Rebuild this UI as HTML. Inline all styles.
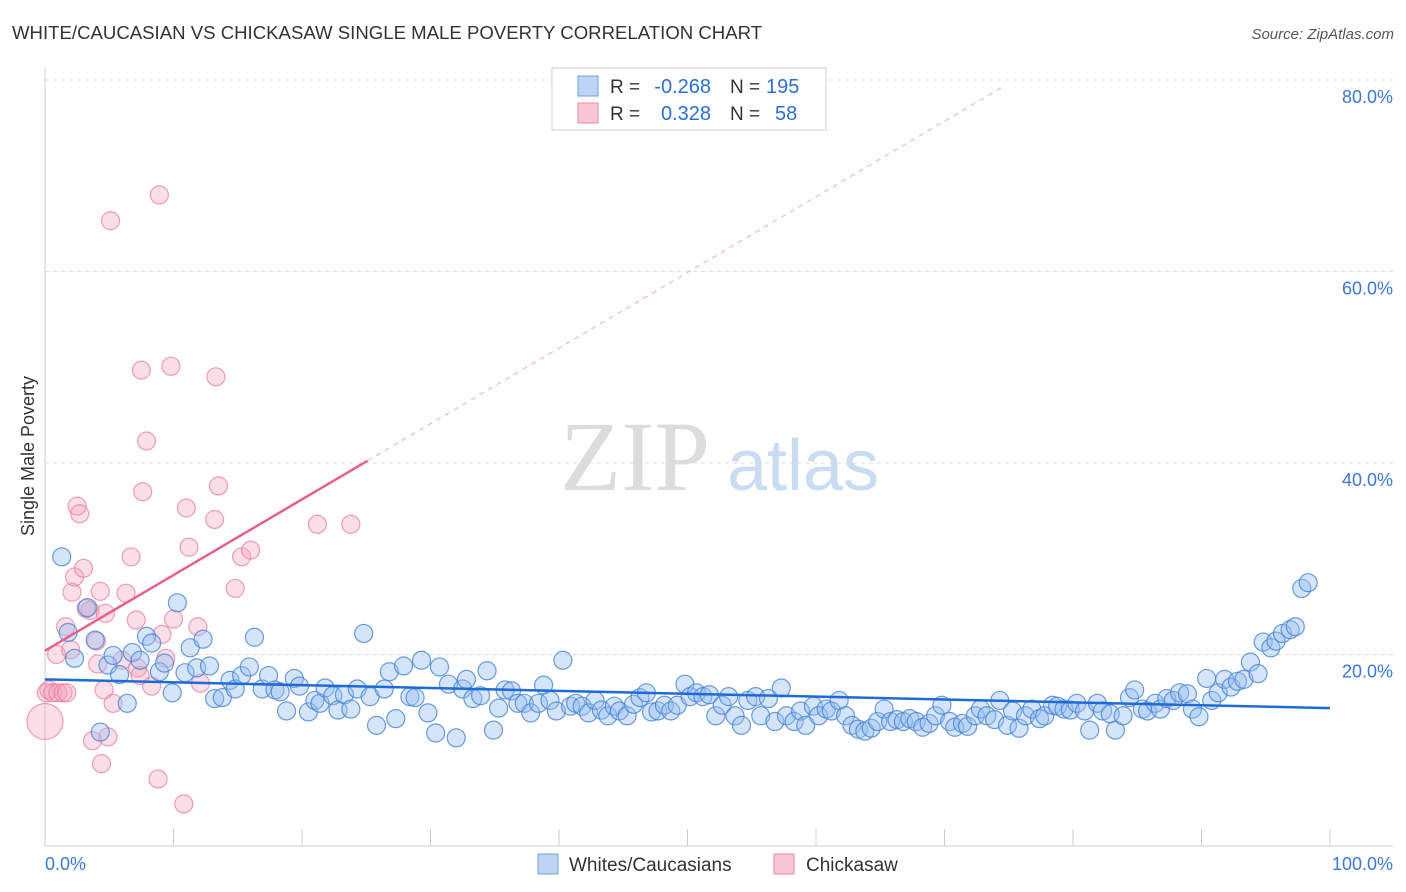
<!DOCTYPE html>
<html><head><meta charset="utf-8"><style>
body{margin:0;background:#fff;font-family:"Liberation Sans",sans-serif}
svg{display:block}
</style></head><body>
<svg id="c" width="1406" height="892">
<text x="12" y="39" font-size="18.6" fill="#333">WHITE/CAUCASIAN VS CHICKASAW SINGLE MALE POVERTY CORRELATION CHART</text>
<text x="1394" y="39" font-size="15" fill="#555" font-style="italic" text-anchor="end">Source: ZipAtlas.com</text>
<g><text x="635" y="490" font-size="100" font-family="Liberation Serif,serif" fill="#dcdcdc" text-anchor="middle">ZIP</text><text x="803" y="490" font-size="72" fill="#c9dcf2" text-anchor="middle">atlas</text></g>
<g id="grid"></g><g id="axes"></g><g id="marks"></g>
<text transform="translate(34,456) rotate(-90)" font-size="18" fill="#333" text-anchor="middle">Single Male Poverty</text>
<g>
<rect x="552" y="68" width="274" height="62" fill="#fff" stroke="#ccc"/>
<rect x="578" y="76" width="20" height="20" fill="#bcd5f5" stroke="#6d9fe0"/>
<rect x="578" y="103" width="20" height="20" fill="#f9c6d4" stroke="#e88aa6"/>
<text x="610" y="93" font-size="19" fill="#333">R =</text>
<text x="711" y="93" font-size="20" fill="#2a6fd6" text-anchor="end">-0.268</text>
<text x="730" y="93" font-size="19" fill="#333">N =</text>
<text x="766" y="93" font-size="20" fill="#2a6fd6">195</text>
<text x="610" y="120" font-size="19" fill="#333">R =</text>
<text x="711" y="120" font-size="20" fill="#2a6fd6" text-anchor="end">0.328</text>
<text x="730" y="120" font-size="19" fill="#333">N =</text>
<text x="775" y="120" font-size="20" fill="#2a6fd6">58</text>
</g>
<g>
<rect x="538" y="854" width="20" height="20" fill="#bcd5f5" stroke="#6d9fe0"/>
<text x="569" y="871" font-size="19" fill="#333">Whites/Caucasians</text>
<rect x="774" y="854" width="20" height="20" fill="#f9c6d4" stroke="#e88aa6"/>
<text x="806" y="871" font-size="19" fill="#333">Chickasaw</text>
</g>
</svg>
<script>
const yTicks=[20,40,60,80];
const xTickLabels=["0.0%","100.0%"];
const blueX=[1.3,1.8,2.3,3.3,3.9,4.3,4.9,5.3,5.8,6.4,6.8,7.4,7.9,8.3,8.9,9.3,9.9,10.3,10.9,11.3,11.8,12.3,12.8,13.2,13.8,14.4,14.8,15.3,15.9,16.3,16.9,17.4,17.9,18.3,18.8,19.4,19.8,20.5,21,21.4,21.8,22.4,22.8,23.3,23.8,24.3,24.8,25.3,25.8,26.4,26.8,27.3,27.9,28.4,28.8,29.3,29.8,30.4,30.7,31.4,32,32.5,32.8,33.3,33.9,34.4,34.9,35.3,35.8,36.3,36.8,37.3,37.8,38.4,38.8,39.3,39.8,40.3,40.9,41.3,41.8,42.3,42.8,43.3,43.8,44.3,44.7,45.3,45.8,46.3,46.8,47.2,47.7,48.2,48.7,49.2,49.8,50.2,50.7,51.2,51.7,52.2,52.7,53.2,53.7,54.2,54.7,55.3,55.7,56.3,56.8,57.3,57.7,58.3,58.8,59.2,59.8,60.2,60.8,61.2,61.8,62.3,62.8,63.3,63.8,64.3,64.8,65.3,65.8,66.3,66.8,67.3,67.8,68.3,68.8,69.3,69.8,70.4,70.8,71.4,71.8,72.4,72.8,73.3,73.9,74.3,74.9,75.3,75.8,76.3,76.8,77.4,77.8,78.4,78.8,79.3,79.8,80.3,80.9,81.3,81.9,82.3,82.9,83.3,83.9,84.4,84.8,85.4,85.8,86.4,86.8,87.3,87.8,88.3,88.9,89.3,89.8,90.4,90.8,91.3,91.8,92.3,92.8,93.3,93.8,94.4,94.8,95.4,95.8,96.3,96.9,97.3,97.8,98.3];
const blueY=[30.2,22.3,19.6,24.9,21.5,11.9,18.9,19.9,17.9,14.9,20.2,19.4,21.9,21.2,18.2,19.1,16,25.4,18.1,20.7,18.6,21.6,18.8,15.4,15.5,17.3,16.4,17.8,18.7,21.8,16.4,17.8,16.3,16.1,14.1,17.5,16.7,14,15.2,14.9,16.5,15.7,14.2,15.8,14.3,16.4,22.2,15.6,12.6,16.4,18.2,13.3,18.8,15.6,15.5,19.4,13.9,11.8,18.7,16.9,11.3,16.4,17.4,15.4,15.7,18.3,12.1,14.4,16.3,16.2,14.9,14.9,13.9,14.9,16.8,15.2,14.1,19.4,14.6,14.9,14.6,13.9,15.2,14.2,13.6,14.6,14.1,13.6,14.8,15.5,16,14,14.1,14.7,14.1,14.7,16.9,15.6,16,15.6,15.8,13.6,14.7,15.6,13.6,12.6,15.2,15.6,13.6,15.4,13,16.5,13.6,13,14.1,12.6,14.6,13.6,14.3,14.1,15.2,13.6,12.6,12.2,12,12.3,13,14.3,13,13.2,13,13.3,13,12.4,12.8,13.6,14.7,13,12.4,12.8,12.5,13.6,14.3,13.6,13.2,15.2,12.6,14.1,12.3,13.6,14.3,13.3,13.6,14.7,14.6,14.3,14.2,14.9,14.1,12.1,14.9,14.1,13.8,12.1,13.6,15.5,16.3,14.3,14.1,14.9,14.3,15.4,15.2,16,15.9,14.3,13.5,17.5,15.2,16,17.4,16.6,17.2,17.4,19.2,18,21.3,20.7,21.4,22.2,22.6,22.9,26.9,27.5];
const pinkX=[0.3,0.1,0.6,1,1.4,1.7,0,0.9,1.6,2,2.1,2.3,2.5,2.7,3,3.2,3.5,3.7,4,4.1,4.3,4.4,4.6,4.7,4.9,5.1,5.3,6,6.3,6.7,7.1,7.2,7.4,7.5,7.6,7.9,8.3,8.8,8.9,9.1,9.4,9.8,10,10.8,11,11.2,11.9,12.1,13.2,13.3,13.5,15.3,16,14.8,21.2,23.8];
const pinkY=[16.3,16,16,16,16,16,13,20,22.9,20.5,26.5,28.1,35.5,34.7,29,24.8,24.6,11,21.4,19,26.6,8.6,16.3,24.3,11.4,65.3,14.9,19.4,26.4,30.2,23.6,18.6,17.8,49.7,37,42.3,16.7,7,68,22.1,19.6,50.1,23.7,4.4,35.3,31.2,22.9,17,34.1,49,37.6,30.2,30.9,26.9,33.6,33.6];
const blueTrend=[17.4,14.4];
const pinkTrend=[20.4,0.79];
const pinkSolidEnd=25.1, pinkDashEnd=74.7;

const X0=45,X1=1330,Y0=846,PY=9.575;
const sx=v=>X0+(X1-X0)*v/100, sy=v=>Y0-v*PY;
const NS="http://www.w3.org/2000/svg";
function mk(t,a,p){const e=document.createElementNS(NS,t);for(const k in a)e.setAttribute(k,a[k]);p.appendChild(e);return e;}
const grid=document.getElementById('grid'),axes=document.getElementById('axes'),marks=document.getElementById('marks');
yTicks.forEach(v=>{
 const l=mk('line',{x1:X0,x2:1393,y1:sy(v),y2:sy(v),stroke:'#ddd','stroke-dasharray':'4,4'},grid);
 
 
 const t=mk('text',{x:1393,y:sy(v)+23,'font-size':18,fill:'#3b78d8','text-anchor':'end'},axes);
 t.textContent=v.toFixed(1)+'%';
 
 
});
const ax=mk('line',{x1:X0,x2:X0,y1:68,y2:Y0,stroke:'#ccc'},axes);


const bx=mk('line',{x1:X0,x2:1393,y1:Y0,y2:Y0,stroke:'#ccc'},axes);


for(let i=0;i<=10;i++){
 const tk=mk('line',{x1:sx(i*10),x2:sx(i*10),y1:829,y2:Y0,stroke:'#ccc'},axes);
 
 
}
xTickLabels.forEach((s,i)=>{
 const t=mk('text',{x:i?1393:45,y:870,'font-size':18,fill:'#3b78d8','text-anchor':i?'end':'start'},axes);
 t.textContent=s;
 
 
});
pinkX.forEach((x,i)=>{
 const c=mk('circle',{cx:sx(x),cy:sy(pinkY[i]),r:(i==6?18:9),fill:'rgba(244,160,185,0.35)',stroke:'rgba(232,120,155,0.7)','stroke-width':1.2},marks);
 
 
});
blueX.forEach((x,i)=>{
 const c=mk('circle',{cx:sx(x),cy:sy(blueY[i]),r:9,fill:'rgba(150,190,240,0.4)',stroke:'rgba(70,130,215,0.8)','stroke-width':1.2},marks);
 
 
});
const bl=mk('line',{x1:sx(0),y1:sy(blueTrend[0]),x2:sx(100),y2:sy(blueTrend[1]),stroke:'#1f6bd6','stroke-width':2.5},marks);


const pl=mk('line',{x1:sx(0),y1:sy(pinkTrend[0]),x2:sx(pinkSolidEnd),y2:sy(pinkTrend[0]+pinkTrend[1]*pinkSolidEnd),stroke:'#e8608a','stroke-width':2.5},marks);


const pd=mk('line',{x1:sx(pinkSolidEnd),y1:sy(pinkTrend[0]+pinkTrend[1]*pinkSolidEnd),x2:sx(pinkDashEnd),y2:sy(pinkTrend[0]+pinkTrend[1]*pinkDashEnd),stroke:'#f0a8bd','stroke-width':1,'stroke-dasharray':'5,5'},marks);


</script>
</body></html>
